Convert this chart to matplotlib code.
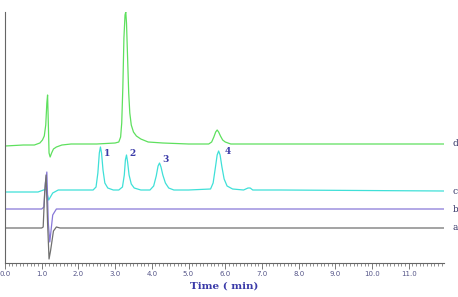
import matplotlib.pyplot as plt
from matplotlib.ticker import MultipleLocator, FormatStrFormatter

# trace d (green)
t_d = [0.0, 0.5, 0.8, 0.95, 1.02, 1.07, 1.11, 1.14, 1.16, 1.18, 1.2, 1.23, 1.27, 1.32, 1.4,
       1.55, 1.8, 2.5, 3.0, 3.1, 3.15, 3.18, 3.21, 3.24, 3.27, 3.29, 3.31, 3.34, 3.37,
       3.4, 3.44, 3.5, 3.58, 3.7, 3.9, 4.3, 5.0, 5.55, 5.63, 5.69, 5.74, 5.78, 5.82,
       5.87, 5.93, 6.0, 6.15, 7.0, 9.0, 11.96]
s_d = [117, 118, 118, 120, 123, 127, 138, 160, 168, 140, 110, 106, 110, 114, 116,
       118, 119, 119, 120, 121, 126, 140, 175, 225, 248, 251, 240, 205, 170,
       150, 138, 131, 127, 124, 121, 120, 119, 119, 121, 126, 131, 133, 131,
       127, 123, 121, 119, 119, 119, 119]

# trace c (cyan)
t_c = [0.0, 0.9, 1.05, 1.12, 1.19, 1.3, 1.45, 1.8, 2.4, 2.48, 2.53, 2.57, 2.6, 2.63,
       2.67, 2.72, 2.8, 2.95, 3.1, 3.2, 3.25, 3.28, 3.31, 3.34, 3.38, 3.44, 3.52, 3.7,
       3.95, 4.05, 4.12, 4.17, 4.21, 4.25, 4.3, 4.37, 4.46, 4.6, 5.0, 5.6, 5.67, 5.73,
       5.78, 5.82, 5.86, 5.91, 5.97, 6.05, 6.2, 6.5, 6.62, 6.68, 6.75, 7.5, 11.96]
s_c = [71, 71, 73, 74, 63, 70, 73, 73, 73, 76, 90, 110, 116, 110, 93,
       80, 75, 73, 73, 76, 88, 103, 108, 101, 88, 79, 75, 73,
       73, 77, 87, 97, 100, 96, 88, 80, 75, 73, 73, 74, 80, 95,
       108, 112, 108, 96, 84, 77, 74, 73, 75, 75, 73, 73, 72]

# trace b (purple)
t_b = [0.0, 1.0, 1.06, 1.1, 1.14, 1.18, 1.22, 1.3, 1.4, 11.96]
s_b = [54, 54, 56, 80, 91, 40, 21, 48, 54, 54]

# trace a (gray)
t_a = [0.0, 1.0, 1.04, 1.08, 1.12, 1.16, 1.2, 1.24, 1.32, 1.4, 1.5, 11.96]
s_a = [35, 35, 36, 70, 88, 40, 4, 12, 32, 36, 35, 35]

trace_names = ['d', 'c', 'b', 'a']
trace_colors = ['#5ee05e', '#3fe0d8', '#8878d8', '#707070']

peak_labels = ['1', '2', '3', '4']
peak_t = [2.77, 3.48, 4.37, 6.06]
peak_s = [109, 109, 103, 112]

fig = plt.figure(figsize=(4.58, 2.97), dpi=100)
ax = fig.add_axes([5 / 458, 34 / 297, 439 / 458, 251 / 297])

series = [(t_d, s_d), (t_c, s_c), (t_b, s_b), (t_a, s_a)]
for (t, s), col, name in zip(series, trace_colors, trace_names):
    ax.plot(t, s, color=col, lw=0.9)
    ax.text(12.2, s[-1], name, color='#333366', fontsize=6.5, family='DejaVu Serif',
            va='center', ha='left')

for lab, t, s in zip(peak_labels, peak_t, peak_s):
    ax.text(t, s, lab, color='#3a3aa8', fontsize=6.5, family='DejaVu Serif',
            fontweight='bold', ha='center', va='center')

ax.set_xlim(0, 11.96)
ax.set_ylim(0, 251)
ax.spines['top'].set_visible(False)
ax.spines['right'].set_visible(False)
ax.spines['left'].set_color('#666666')
ax.spines['bottom'].set_color('#666666')
ax.set_yticks([])
ax.xaxis.set_major_locator(MultipleLocator(1.0))
ax.xaxis.set_minor_locator(MultipleLocator(0.1))
ax.xaxis.set_major_formatter(FormatStrFormatter('%.1f'))
ax.tick_params(axis='x', which='major', length=4, width=0.6, colors='#666666',
               labelsize=5, labelcolor='#555588', pad=2)
ax.tick_params(axis='x', which='minor', length=2, width=0.5, colors='#666666')
ax.set_xlabel('Time ( min)', fontsize=7.5, family='DejaVu Serif', fontweight='bold',
              color='#3a3aa8', labelpad=3)

fig.savefig('out.png', dpi=100)
